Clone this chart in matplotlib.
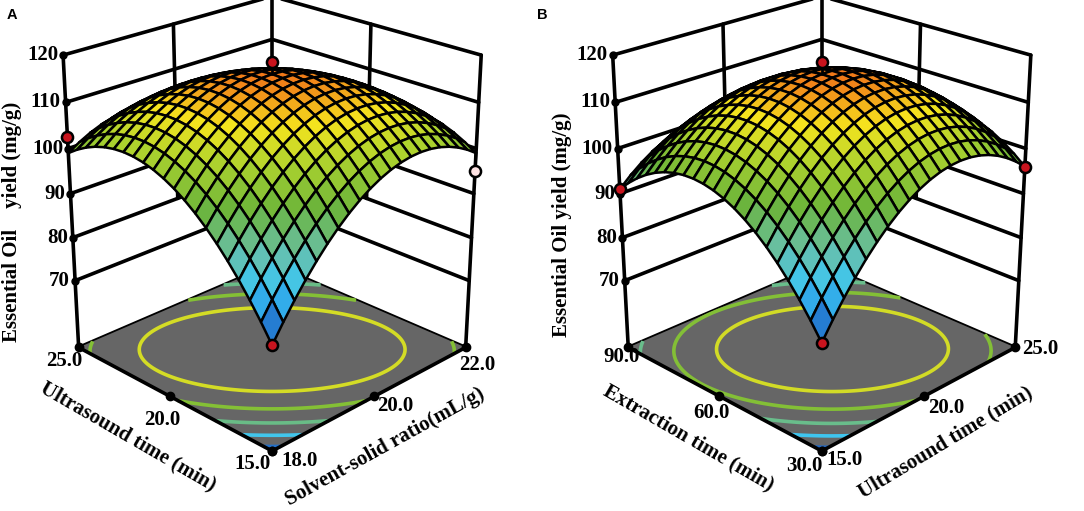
import numpy as np
import matplotlib
matplotlib.use("Agg")
import matplotlib.pyplot as plt
from matplotlib.colors import LinearSegmentedColormap, Normalize
from mpl_toolkits.mplot3d import proj3d

plt.rcParams["font.family"] = ["Liberation Serif", "DejaVu Serif"]
plt.rcParams["font.weight"] = "bold"

# panel A: solvent-solid ratio (x) vs ultrasound time (y)
a_x_ticks = [18.0, 20.0, 22.0]
a_y_ticks = [15.0, 20.0, 25.0]
# quadratic model, coded units: b0, bA, bB, bAB, bAA, bBB
a_coef = [116.0, 0.0, 0.0, -11.0, -14.0, -14.0]
a_points = [(20.0, 20.0, 118.5), (18.0, 25.0, 102.5), (22.0, 15.0, 95.0), (18.0, 15.0, 77.0)]
a_below = [False, False, True, False]

# panel B: ultrasound time (x) vs extraction time (y)
b_x_ticks = [15.0, 20.0, 25.0]
b_y_ticks = [30.0, 60.0, 90.0]
b_coef = [116.0, 1.5, -1.0, -7.75, -15.0, -15.25]
b_points = [(20.0, 60.0, 118.5), (15.0, 90.0, 91.0), (25.0, 30.0, 96.0), (15.0, 30.0, 77.5)]
b_below = [False, False, False, False]

z_ticks = [70, 80, 90, 100, 110, 120]
contour_levels = [80, 87, 94, 101, 108]
z_floor = 54.0

cmap = LinearSegmentedColormap.from_list("de", [
    (0.0, "#1a3fa8"), (0.14, "#2a9be6"), (0.25, "#3fc6ef"), (0.38, "#68c0aa"),
    (0.55, "#6bb43a"), (0.72, "#acd22e"), (0.86, "#f5e41e"), (1.0, "#f07818")])

PT = 0.72  # points per pixel at dpi 100


def model(coef, A, B):
    b0, b1, b2, b12, b11, b22 = coef
    return b0 + b1 * A + b2 * B + b12 * A * B + b11 * A ** 2 + b22 * B ** 2


def line(ax, p, q, zo, lw=2.6):
    ax.plot([p[0], q[0]], [p[1], q[1]], [p[2], q[2]], color="k", lw=lw,
            solid_capstyle="round", zorder=zo)


def label_at(ax, M, pt, txt, dx, dy, ha="center"):
    x2, y2, _ = proj3d.proj_transform(pt[0], pt[1], pt[2], M)
    ax.annotate(txt, xy=(x2, y2), xycoords="data", xytext=(dx * PT, -dy * PT),
                textcoords="offset points", ha=ha, va="center",
                fontsize=15, fontweight="bold", annotation_clip=False)


def draw_panel(ax, xt, yt, coef, points, below):
    x0, x1 = xt[0], xt[-1]
    y0, y1 = yt[0], yt[-1]
    zt = z_ticks[-1]
    xm, xh = (x0 + x1) / 2, (x1 - x0) / 2
    ym, yh = (y0 + y1) / 2, (y1 - y0) / 2

    ax.set_xlim(x0, x1)
    ax.set_ylim(y0, y1)
    ax.set_zlim(z_floor, zt)
    ax.set_box_aspect((1, 1, 1.12), zoom=0.82)
    ax.view_init(elev=23.5, azim=-135)
    ax.set_proj_type("persp", focal_length=0.5)
    ax.set_axis_off()

    # back walls
    for z in z_ticks:
        line(ax, (x0, y1, z), (x1, y1, z), 1)
        line(ax, (x1, y0, z), (x1, y1, z), 1)
    line(ax, (xt[1], y1, z_ticks[1]), (xt[1], y1, zt), 1)
    line(ax, (x1, yt[1], z_ticks[1]), (x1, yt[1], zt), 1)
    line(ax, (x1, y1, z_floor), (x1, y1, zt), 1)
    line(ax, (x0, y1, z_floor), (x1, y1, z_floor), 1)
    line(ax, (x1, y0, z_floor), (x1, y1, z_floor), 1)

    # floor with contours
    fa = np.linspace(-1, 1, 2)
    FA, FB = np.meshgrid(fa, fa)
    ax.plot_surface(xm + xh * FA, ym + yh * FB, np.full_like(FA, z_floor),
                    color="#666666", shade=False, linewidth=0, zorder=2)
    ca = np.linspace(-1, 1, 200)
    CA, CB = np.meshgrid(ca, ca)
    CZ = model(coef, CA, CB)

    sa = np.linspace(-1, 1, 21)
    SA, SB = np.meshgrid(sa, sa)
    SZ = model(coef, SA, SB)
    norm = Normalize(SZ.min(), SZ.max())

    ax.contour(xm + xh * CA, ym + yh * CB, CZ, levels=contour_levels,
               zdir="z", offset=z_floor, cmap=cmap, norm=norm,
               linewidths=2.6, zorder=3)

    # front floor edges and side verticals
    line(ax, (x0, y0, z_floor), (x1, y0, z_floor), 4)
    line(ax, (x0, y0, z_floor), (x0, y1, z_floor), 4)
    line(ax, (x0, y1, z_floor), (x0, y1, zt), 4)
    line(ax, (x1, y0, z_floor), (x1, y0, zt), 4)

    # tick dots
    for z in z_ticks:
        ax.plot([x0], [y1], [z], "o", color="k", ms=5, zorder=4)
    for x in xt:
        ax.plot([x], [y0], [z_floor], "o", color="k", ms=6, zorder=4)
    for y in yt:
        ax.plot([x0], [y], [z_floor], "o", color="k", ms=6, zorder=4)

    # response surface
    ax.plot_surface(xm + xh * SA, ym + yh * SB, SZ, cmap=cmap, norm=norm,
                    rstride=1, cstride=1, edgecolor="k", linewidth=1.8,
                    shade=False, antialiased=True, zorder=5)

    # design points
    for (px, py, pz), b in zip(points, below):
        sz = model(coef, (px - xm) / xh, (py - ym) / yh)
        if abs(pz - sz) > 1:
            ax.plot([px, px], [py, py], [pz, sz], color="k", lw=2, zorder=6)
        ax.plot([px], [py], [pz], "o", ms=8, mfc="#ffe4e4" if b else "#c8141e",
                mec="k", mew=1.8, zorder=7)
    return x0, x1, y0, y1


fig = plt.figure(figsize=(10.84, 5.11), dpi=100)

# label offsets in pixels: y ticks (front -> left), x ticks (front -> right)
a_off = ([(-20, 13), (-8, 24), (-14, 14)], [(27, 10), (21, 10), (12, 18)])
b_off = ([(-17, 15), (-8, 17), (-7, 10)], [(23, 9), (22, 12), (25, 2)])

panels = [
    (a_x_ticks, a_y_ticks, a_coef, a_points, a_below, a_off, [-0.0365, -0.046, 0.56, 1.25]),
    (b_x_ticks, b_y_ticks, b_coef, b_points, b_below, b_off, [0.4705, -0.046, 0.56, 1.25]),
]
for xt, yt, coef, pts, bel, off, rect in panels:
    ax = fig.add_axes(rect, projection="3d", computed_zorder=False)
    x0, x1, y0, y1 = draw_panel(ax, xt, yt, coef, pts, bel)
    M = ax.get_proj()
    for z in z_ticks:
        label_at(ax, M, (x0, y1, z), str(z), -5, 0, ha="right")
    for y, (dx, dy) in zip(yt, off[0]):
        label_at(ax, M, (x0, y, z_floor), "%.1f" % y, dx, dy)
    for x, (dx, dy) in zip(xt, off[1]):
        label_at(ax, M, (x, y0, z_floor), "%.1f" % x, dx, dy)

lab = dict(fontsize=15, fontweight="bold", ha="center", va="center")
fig.text(12 / 1084, 1 - 222 / 511, "Essential Oil    yield (mg/g)", rotation=90, **lab)
fig.text(128 / 1084, 1 - 437 / 511, "Ultrasound time (min)", rotation=-30, **lab)
fig.text(385 / 1084, 1 - 447 / 511, "Solvent-solid ratio(mL/g)", rotation=29, **lab)
fig.text(562 / 1084, 1 - 225 / 511, "Essential Oil yield (mg/g)", rotation=90, **lab)
fig.text(688 / 1084, 1 - 438 / 511, "Extraction time (min)", rotation=-30, **lab)
fig.text(946 / 1084, 1 - 443 / 511, "Ultrasound time (min)", rotation=31, **lab)

fig.text(12 / 1084, 1 - 15 / 511, "A", fontsize=10.5, fontweight="bold",
         family="Liberation Sans", ha="center", va="center")
fig.text(542 / 1084, 1 - 15 / 511, "B", fontsize=10.5, fontweight="bold",
         family="Liberation Sans", ha="center", va="center")

fig.savefig("out.png", dpi=100)
